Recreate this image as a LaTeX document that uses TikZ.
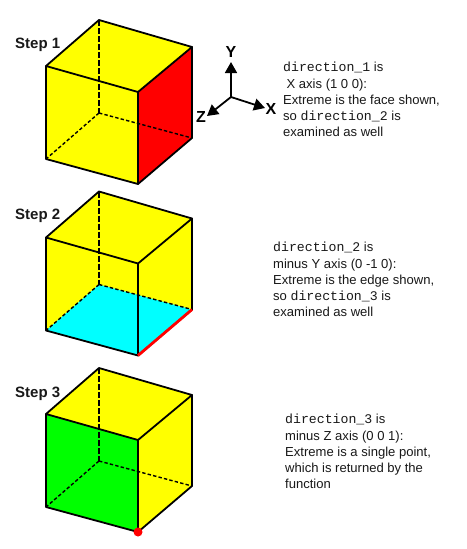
\documentclass[tikz,border=0pt]{standalone}
\usepackage{fontspec}
\setmainfont{Liberation Sans}
\setmonofont{Liberation Mono}
\usetikzlibrary{arrows.meta}
\definecolor{cubeyellow}{RGB}{255,255,0}
\definecolor{cubered}{RGB}{255,0,0}
\definecolor{cubecyan}{RGB}{0,255,255}
\definecolor{cubegreen}{RGB}{0,255,0}
\tikzset{
  edgeline/.style={draw=black,line width=1.8pt,line cap=round,line join=round},
  hiddenline/.style={draw=black,line width=1.4pt,dash pattern=on 3.4pt off 2.2pt},
  hiddenthick/.style={draw=black,line width=1.9pt,dash pattern=on 6pt off 2pt},
  steplabel/.style={font=\fontsize{15}{16}\selectfont\bfseries,inner sep=0pt,text=black!90},
  axislabel/.style={font=\fontsize{16}{16}\selectfont\bfseries,inner sep=0pt},
  axisline/.style={draw=black,line width=1.8pt,-{Triangle[length=11pt,width=12pt]}},
  note/.style={font=\fontsize{13.05}{16.3}\selectfont,align=left,anchor=north west,inner sep=0pt,text=black!90}
}
\newcommand{\dirname}[1]{{\ttfamily\fontsize{13.2}{16.3}\selectfont direction\_#1}}
\newcommand{\cubepoints}[2]{%
  \coordinate (#1tb) at (99,20+#2);
  \coordinate (#1tr) at (192,47+#2);
  \coordinate (#1tf) at (138,92+#2);
  \coordinate (#1tl) at (46,66+#2);
  \coordinate (#1bb) at (99,113+#2);
  \coordinate (#1br) at (192,138+#2);
  \coordinate (#1bf) at (138,184+#2);
  \coordinate (#1bl) at (46,159+#2);
  \fill[cubeyellow] (#1tb) -- (#1tr) -- (#1br) -- (#1bf) -- (#1bl) -- (#1tl) -- cycle;
}
\newcommand{\cubeedges}[1]{%
  \draw[hiddenthick] (#1tb) -- (#1bb);
  \draw[hiddenline] (#1bb) -- (#1bl);
  \draw[hiddenline] (#1bb) -- (#1br);
  \draw[edgeline] (#1tl) -- (#1tb) -- (#1tr) -- (#1tf) -- cycle;
  \draw[edgeline] (#1tl) -- (#1bl) -- (#1bf) -- (#1br) -- (#1tr);
  \draw[edgeline] (#1tf) -- (#1bf);
}
\begin{document}
\begin{tikzpicture}[x=1pt,y=-1pt]
\useasboundingbox[fill=white] (0,0) rectangle (466,549);
% cube 1
\cubepoints{a}{0}
\fill[cubered] (atf) -- (atr) -- (abr) -- (abf) -- cycle;
\cubeedges{a}
% cube 2
\cubepoints{b}{171.5}
\fill[cubecyan] (bbb) -- (bbr) -- (bbf) -- (bbl) -- cycle;
\cubeedges{b}
\draw[draw=cubered,line width=2.8pt] (bbf) -- (bbr);
% cube 3
\cubepoints{c}{348}
\fill[cubegreen] (ctl) -- (ctf) -- (cbf) -- (cbl) -- cycle;
\cubeedges{c}
\node[circle,fill=cubered,minimum size=9pt,inner sep=0pt] (cpoint) at (cbf) {};
% step labels
\node[steplabel,anchor=west] (s1) at (15,45) {Step 1};
\node[steplabel,anchor=west] (s2) at (15,216) {Step 2};
\node[steplabel,anchor=west] (s3) at (15,394) {Step 3};
% axes
\coordinate (o) at (231,97);
\coordinate (ytip) at (231,62);
\coordinate (xtip) at (265,108);
\coordinate (ztip) at (207,116);
\draw[axisline] (o) -- (ytip);
\draw[axisline] (o) -- (xtip);
\draw[axisline] (o) -- (ztip);
\node[axislabel] (ly) at (231,52) {Y};
\node[axislabel] (lx) at (271,109) {X};
\node[axislabel] (lz) at (201,117) {Z};
% notes
\node[note] (n1) at (283,62) {\dirname{1} is\\\hspace*{3.4pt}X axis (1 0 0):\\Extreme is the face shown,\\so \dirname{2} is\\examined as well};
\node[note] (n2) at (273,242) {\dirname{2} is\\minus Y axis (0 -1 0):\\Extreme is the edge shown,\\so \dirname{3} is\\examined as well};
\node[note] (n3) at (285,414) {\dirname{3} is\\minus Z axis (0 0 1):\\Extreme is a single point,\\which is returned by the\\function};
\end{tikzpicture}
\end{document}
